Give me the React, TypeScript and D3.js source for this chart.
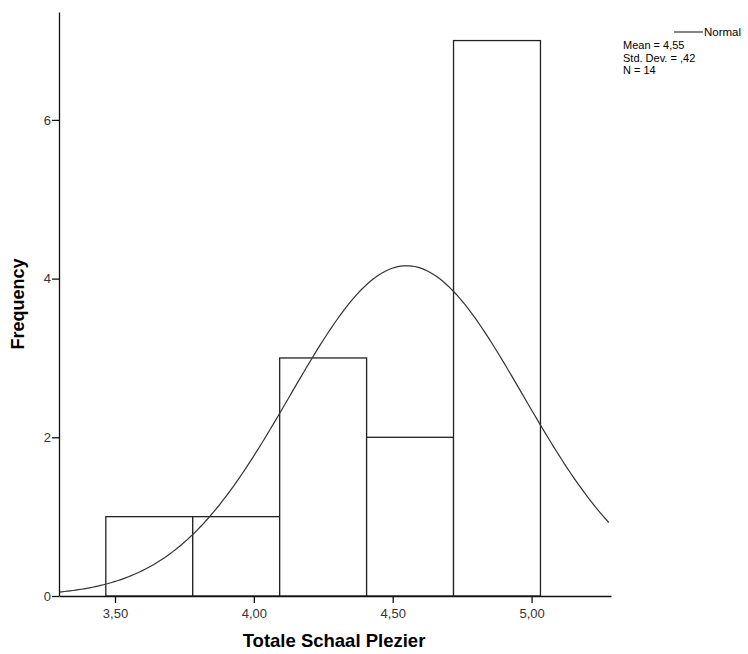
import { useEffect, useRef } from "react";
import * as d3 from "d3";

// histogram bins
const binEdges = [3.467, 3.78, 4.093, 4.406, 4.719, 5.032];
const binCounts = [1, 1, 3, 2, 7];
const xTicks = [3.5, 4.0, 4.5, 5.0];
const yTicks = [0, 2, 4, 6];
const legendLines = ["Mean = 4,55", "Std. Dev. = ,42", "N = 14"];
const mean = 4.55;
const sd = 0.42;
const n = 14;

export default function App() {
  const ref = useRef<SVGSVGElement>(null);

  useEffect(() => {
    const svg = d3.select(ref.current);
    svg.selectAll("*").remove();

    const left = 59;
    const right = 611;
    const top = 12;
    const bottom = 596;
    const font = "'Liberation Sans', Arial, sans-serif";

    const x = d3.scaleLinear().domain([3.2984, 5.286]).range([left, right]);
    const y = d3.scaleLinear().domain([0, 7.36]).range([bottom, top]);

    const bins = binCounts.map((c, i) => ({ x0: binEdges[i], x1: binEdges[i + 1], c }));

    // bars
    svg
      .append("g")
      .selectAll("rect")
      .data(bins)
      .enter()
      .append("rect")
      .attr("x", (d) => x(d.x0))
      .attr("y", (d) => y(d.c))
      .attr("width", (d) => x(d.x1) - x(d.x0))
      .attr("height", (d) => y(0) - y(d.c))
      .attr("fill", "#fff")
      .attr("stroke", "#222")
      .attr("stroke-width", 1.3);

    // normal curve, scaled to counts
    const bw = binEdges[1] - binEdges[0];
    const xs = d3.range(x.domain()[0], x.domain()[1] + 0.001, 0.01);
    const curve = xs.map((v) => [
      v,
      (n * bw * Math.exp(-0.5 * ((v - mean) / sd) ** 2)) / (sd * Math.sqrt(2 * Math.PI)),
    ]);
    svg
      .append("path")
      .datum(curve)
      .attr("fill", "none")
      .attr("stroke", "#333")
      .attr("stroke-width", 1.2)
      .attr("d", d3.line<number[]>().x((d) => x(d[0])).y((d) => y(d[1])));

    // axes
    const xAxis = svg
      .append("g")
      .attr("transform", `translate(0,${bottom})`)
      .call(
        d3
          .axisBottom(x)
          .tickValues(xTicks)
          .tickSize(7)
          .tickSizeOuter(0)
          .tickFormat((d) => d3.format(".2f")(d as number).replace(".", ","))
      );
    const yAxis = svg
      .append("g")
      .attr("transform", `translate(${left},0)`)
      .call(d3.axisLeft(y).tickValues(yTicks).tickSize(7).tickSizeOuter(0).tickFormat(d3.format("d")));

    [xAxis, yAxis].forEach((g) => {
      g.select(".domain").attr("stroke", "#111").attr("stroke-width", 1.3);
      g.selectAll(".tick line").attr("stroke", "#111").attr("stroke-width", 1.3);
      g.selectAll(".tick text").attr("fill", "#333").style("font", `13px ${font}`);
    });
    xAxis.selectAll(".tick text").attr("dy", "0.95em");
    yAxis.selectAll(".tick text").attr("x", -8);

    // axis titles
    svg
      .append("text")
      .attr("x", (left + right) / 2 - 1)
      .attr("y", 647)
      .attr("text-anchor", "middle")
      .style("font", `bold 18.5px ${font}`)
      .text("Totale Schaal Plezier");
    svg
      .append("text")
      .attr("transform", `translate(24,${(top + bottom) / 2}) rotate(-90)`)
      .attr("text-anchor", "middle")
      .style("font", `bold 18px ${font}`)
      .text("Frequency");

    // legend
    svg
      .append("line")
      .attr("x1", 674)
      .attr("x2", 703)
      .attr("y1", 32)
      .attr("y2", 32)
      .attr("stroke", "#333")
      .attr("stroke-width", 1.2);
    svg
      .append("text")
      .attr("x", 704)
      .attr("y", 36)
      .style("font", `11.5px ${font}`)
      .text("Normal");
    svg
      .append("g")
      .selectAll("text")
      .data(legendLines)
      .enter()
      .append("text")
      .attr("x", 623)
      .attr("y", (_, i) => 49 + i * 12.6)
      .style("font", `11px ${font}`)
      .text((d) => d);
  }, []);

  return (
    <svg
      ref={ref}
      width={748}
      height={654}
      style={{ position: "absolute", left: 0, top: 0, background: "#fff" }}
    ></svg>
  );
}
